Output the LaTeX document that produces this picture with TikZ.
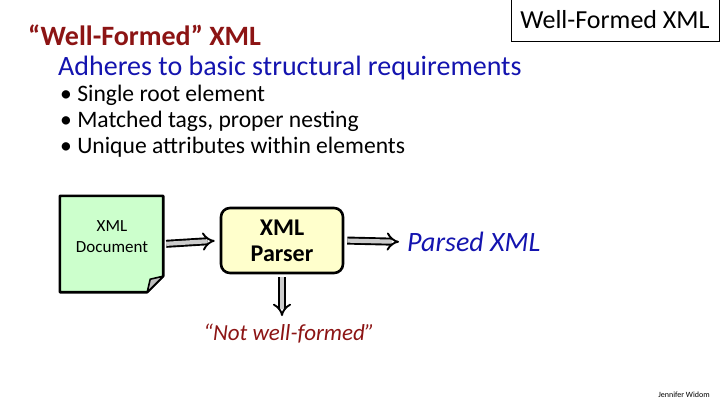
\documentclass[tikz,border=0pt]{standalone}
\usepackage{fontspec}
\setmainfont{Carlito}
\usetikzlibrary{arrows.meta}
\definecolor{titlered}{RGB}{140,20,20}
\definecolor{textblue}{RGB}{20,20,175}
\definecolor{notegreen}{RGB}{204,255,204}
\definecolor{parseryellow}{RGB}{255,255,204}
\tikzset{
    fatarrow/.style={double=gray!40,double distance=4.2pt,line width=1.9pt,-Implies,shorten <=3pt,shorten >=5pt},
    textline/.style={anchor=base west,inner sep=0pt}
}
\begin{document}
\begin{tikzpicture}[x=1pt,y=-1pt]
    \useasboundingbox (0,0) rectangle (720,405);

    % heading
    \node[textline,text=titlered,font=\fontsize{28}{32}\selectfont\bfseries] (title) at (28,45) {“Well-Formed” XML};
    \node[textline,text=textblue,font=\fontsize{28}{32}\selectfont] (adheres) at (58,75) {Adheres to basic structural requirements};
    \begin{scope}[font=\fontsize{23.6}{27}\selectfont]
        \node[textline] (rootel) at (60,101) {• Single root element};
        \node[textline] (tags) at (60,127) {• Matched tags, proper nesting};
        \node[textline] (attrs) at (60,153) {• Unique attributes within elements};
    \end{scope}
    \node[draw,line width=0.8pt,minimum width=208,minimum height=42,font=\fontsize{26}{30}\selectfont] (label) at (615,20) {Well-Formed XML};

    % flow
    \node[minimum width=103,minimum height=96] (doc) at (111.5,244) {};
    \draw[line width=2.6pt,fill=notegreen,line join=round]
        (doc.north west) -- (doc.north east) -- ([yshift=16]doc.south east)
        -- ([xshift=-16]doc.south east) -- (doc.south west) -- cycle;
    \draw[line width=1.6pt,fill=gray!50,line join=round]
        ([xshift=-16]doc.south east) -- ([yshift=16]doc.south east) -- ([xshift=-13,yshift=13]doc.south east) -- cycle;
    \node[align=center,font=\fontsize{17}{21}\selectfont] (doctext) at (112,237) {XML\\Document};

    \node[draw,line width=2.6pt,rounded corners=9pt,fill=parseryellow,minimum width=122,minimum height=65,align=center,font=\fontsize{24}{26}\selectfont\bfseries] (parser) at (282,240.5) {XML\\Parser};
    \node[anchor=west,inner sep=0pt,text=textblue,font=\fontsize{28}{32}\selectfont\itshape] (parsed) at (407,242) {Parsed XML};
    \node[text=titlered,font=\fontsize{23}{27}\selectfont\itshape] (notwf) at (289,334) {“Not well-formed”};
    \coordinate (down) at (282,317);

    \draw[fatarrow] (doc.east) -- (parser.west);
    \draw[fatarrow,shorten >=8pt] (parser.east) -- (parsed.west);
    \draw[fatarrow,shorten >=1pt] (parser.south) -- (down);

    \node[font=\fontsize{8}{9}\selectfont,inner sep=0pt] (credit) at (684,395) {Jennifer Widom};
\end{tikzpicture}
\end{document}
